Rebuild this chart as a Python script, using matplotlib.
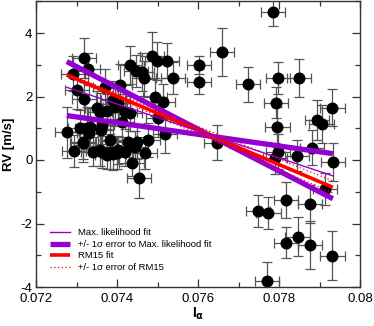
import matplotlib
matplotlib.use("Agg")
import matplotlib.pyplot as plt
from matplotlib.lines import Line2D
from matplotlib.ticker import MultipleLocator, FixedLocator, FixedFormatter

plt.rcParams['font.family'] = ['Liberation Sans', 'DejaVu Sans']
plt.rcParams['axes.unicode_minus'] = False

# ---- data ----
i_alpha = [0.07276, 0.07319, 0.07329, 0.07291, 0.07302, 0.07319, 0.07294, 0.07315,
           0.07309, 0.07327, 0.07332, 0.07340, 0.07358, 0.07376, 0.07361, 0.07362,
           0.07376, 0.07383, 0.07391, 0.07391, 0.07403, 0.07407, 0.07420, 0.07432,
           0.07447, 0.07461, 0.07467, 0.07486, 0.07499, 0.07523, 0.07538, 0.07494,
           0.07513, 0.07519, 0.07436, 0.07455, 0.07477, 0.07469, 0.07444, 0.07420,
           0.07399, 0.07350, 0.07333, 0.07317, 0.07358, 0.07383, 0.07362, 0.07432,
           0.07412, 0.07428, 0.07449, 0.07403, 0.07502, 0.07370, 0.07395,
           0.07786, 0.07659, 0.07602, 0.07602, 0.07724, 0.07798, 0.07850, 0.07792,
           0.07796, 0.07932, 0.07893, 0.07905, 0.07646, 0.07797, 0.07844, 0.07881,
           0.07934, 0.07790, 0.07914, 0.07817, 0.07877, 0.07749, 0.07774, 0.07817,
           0.07846, 0.07877, 0.07932, 0.07771]
rv = [0.87, 3.20, 2.86, 2.71, 2.20, 1.92, 0.29, 0.55,
      1.01, 1.01, 0.84, 0.26, 1.52, 1.54, 0.94, 0.26,
      0.16, 0.63, 0.19, 1.89, 1.79, 2.36, 1.52, 2.99,
      2.80, 2.78, 2.57, 3.29, 3.13, 3.13, 2.59, 1.99,
      1.84, 0.82, -0.10, -0.58, 0.63, 0.21, 0.42, 0.26,
      0.21, 1.63, 1.05, 0.58, 0.31, 0.26, 1.10, 1.47,
      1.21, 0.58, 0.58, 0.31, 1.31, 2.31, 1.68,
      4.67, 3.41, 2.99, 2.47, 2.38, 2.59, 2.59, 1.81,
      1.05, 1.65, 1.26, 1.13, 0.55, 0.26, 0.14, 0.38,
      -0.05, 0.05, -0.92, -1.26, -1.39, -1.61, -1.68, -2.60,
      -2.41, -2.68, -3.01, -3.80]
rv_err = [0.80, 0.63, 0.50, 0.55, 0.60, 0.55, 0.50, 0.60,
          0.55, 0.65, 0.50, 0.45, 0.60, 0.55, 0.60, 0.50,
          0.45, 0.55, 0.50, 0.60, 0.55, 0.65, 0.55, 0.60,
          0.50, 0.60, 0.55, 0.75, 0.60, 0.55, 0.50, 0.60,
          0.55, 0.60, 0.40, 0.63, 0.55, 0.50, 0.50, 0.45,
          0.50, 0.55, 0.60, 0.55, 0.50, 0.55, 0.60, 0.55,
          0.60, 0.50, 0.55, 0.45, 0.60, 0.55, 0.60,
          0.46, 0.76, 0.28, 0.40, 0.55, 0.50, 0.60, 0.50,
          0.63, 0.59, 0.63, 0.60, 0.54, 0.55, 0.50, 0.55,
          0.60, 0.50, 0.50, 0.58, 0.60, 0.50, 0.50, 0.50,
          0.60, 0.76, 0.76, 0.60]
ialpha_err = [0.00030] * len(i_alpha)

# fit lines: values at the two ends of the fitted range
fit_x = [0.07276, 0.07933]
ml_fit = [2.29, -0.50]
ml_err_hi = [3.10, -1.22]
ml_err_lo = [1.40, 0.20]
rm15_fit = [2.68, -0.86]
rm15_err_hi = [2.73, -0.66]
rm15_err_lo = [2.63, -1.04]

x_ticks = [0.072, 0.074, 0.076, 0.078, 0.080]
x_tick_labels = ["0.072", "0.074", "0.076", "0.078", "0.08"]
y_ticks = [-4, -2, 0, 2, 4]
y_tick_labels = ["-4", "-2", "0", "2", "4"]

PURPLE = "#9400D3"
RED = "#FF0000"

fig = plt.figure(figsize=(3.74, 3.26), dpi=100)
ax = fig.add_axes([36 / 374, 1 - 287 / 326, 324 / 374, 285.75 / 326])

ax.errorbar(i_alpha, rv, yerr=rv_err, xerr=ialpha_err, fmt='o', color='black',
            ecolor='#555555', elinewidth=0.9, capsize=3.4, capthick=0.9,
            markersize=7.6, zorder=2)

ax.plot(fit_x, ml_err_hi, color=PURPLE, lw=3.8, solid_capstyle='butt', zorder=3)
ax.plot(fit_x, ml_err_lo, color=PURPLE, lw=3.8, solid_capstyle='butt', zorder=3)
ax.plot(fit_x, rm15_fit, color=RED, lw=2.6, solid_capstyle='butt', zorder=4)
ax.plot(fit_x, rm15_err_hi, color=RED, lw=0.9, ls=(0, (1, 2)), zorder=4)
ax.plot(fit_x, rm15_err_lo, color=RED, lw=0.9, ls=(0, (1, 2)), zorder=4)
ax.plot(fit_x, ml_fit, color=PURPLE, lw=1.0, zorder=5)

ax.set_xlim(0.072, 0.080)
ax.set_ylim(-4, 5)
ax.xaxis.set_major_locator(FixedLocator(x_ticks))
ax.xaxis.set_major_formatter(FixedFormatter(x_tick_labels))
ax.yaxis.set_major_locator(FixedLocator(y_ticks))
ax.yaxis.set_major_formatter(FixedFormatter(y_tick_labels))
ax.xaxis.set_minor_locator(MultipleLocator(0.001))
ax.yaxis.set_minor_locator(MultipleLocator(1))
ax.tick_params(which='both', direction='in', top=True, right=True,
               color='#333333', width=0.9)
ax.tick_params(which='major', length=5.5, labelsize=9.5)
ax.tick_params(axis='x', which='major', pad=4.5)
ax.tick_params(axis='y', which='major', pad=2.5)
ax.tick_params(which='minor', length=3.3)
for s in ax.spines.values():
    s.set_linewidth(1.0)
    s.set_color('#333333')

ax.set_ylabel("RV [m/s]", fontsize=9.5, fontweight='bold', labelpad=4)
ax.set_xlabel(r"I$_\mathbf{\alpha}$", fontsize=10, fontweight='bold', labelpad=0)

handles = [
    Line2D([], [], color=PURPLE, lw=1.0),
    Line2D([], [], color=PURPLE, lw=3.8, solid_capstyle='butt'),
    Line2D([], [], color=RED, lw=2.6, solid_capstyle='butt'),
    Line2D([], [], color=RED, lw=0.9, ls=(0, (1, 2))),
]
labels = ["Max. likelihood fit", "+/- 1\u03c3 error to Max. likelihood fit",
          "RM15 fit", "+/- 1\u03c3 error of RM15"]
ax.legend(handles, labels, loc='lower left', bbox_to_anchor=(14 / 324, 0.052),
          frameon=False, fontsize=6.8, handlelength=2.1, handletextpad=0.9,
          labelspacing=0.28, borderpad=0, borderaxespad=0)

fig.savefig("out.png", dpi=100)
